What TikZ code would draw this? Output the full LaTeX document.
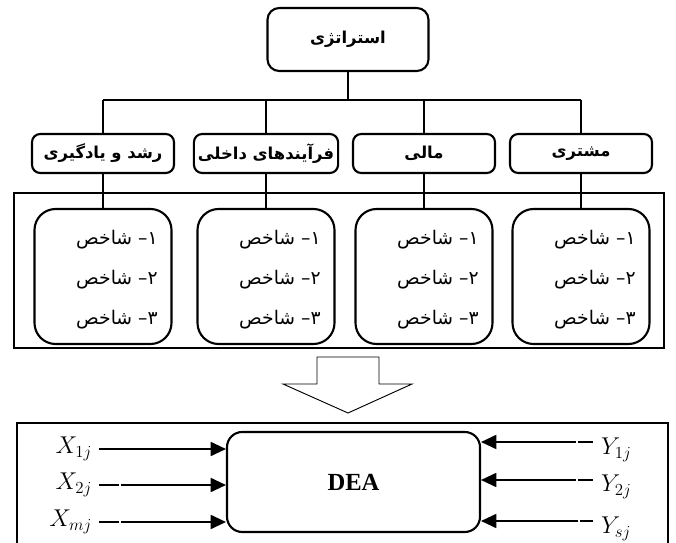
\documentclass[tikz,border=0pt]{standalone}
\usepackage{fontspec}
\setmainfont{Liberation Serif}
\newfontfamily\farsi[Script=Arabic]{DejaVu Sans}
\TeXXeTstate=1
\usetikzlibrary{arrows.meta}

\tikzset{
  link/.style={line width=0.9pt},
  frame/.style={line width=2.2pt},
  topbox/.style={draw, line width=1.8pt, rounded corners=10pt, minimum width=4.83cm, minimum height=1.89cm, font=\farsi\bfseries\fontsize{14}{16}\selectfont},
  catbox/.style={draw, line width=1.8pt, rounded corners=7pt, minimum width=4.26cm, minimum height=1.17cm, font=\farsi\bfseries\fontsize{14}{16}\selectfont},
  inbox/.style={draw, line width=1.8pt, rounded corners=18pt, minimum width=4.11cm, minimum height=4.05cm},
  item/.style={anchor=east, inner sep=1pt, font=\farsi\fontsize{16}{18}\selectfont},
  deabox/.style={draw, line width=1.8pt, rounded corners=13pt, minimum width=7.59cm, minimum height=3cm, font=\bfseries\fontsize{21}{24}\selectfont},
  lab/.style={inner sep=1pt, outer sep=5pt, font=\fontsize{20}{22}\selectfont},
  arr/.style={line width=1.3pt, -{Triangle[length=13pt,width=12pt]}},
  gapped/.style={dash pattern=on #1 off 1.6pt on 400pt}
}

\begin{document}
\begin{tikzpicture}[x=0.03cm,y=-0.03cm]
\useasboundingbox (0,0) rectangle (676,543);
\clip (0,0) rectangle (676,543);

% strategy and the four perspectives
\node[topbox] (strat) at (348,39.5) {\beginR استراتژی\endR};
\coordinate (bus) at (348,100);
\draw[link] (strat) -- (bus);
\draw[frame] (14,193) rectangle (664,348);
\foreach \x/\t [count=\i] in {103/{رشد و یادگیری}, 266/{فرآیندهای داخلی}, 424/{مالی}, 581/{مشتری}}{
  \node[catbox] (c\i) at (\x,153.5) {\beginR\t\endR};
  \node[inbox] (k\i) at (\x,276.5) {};
  \draw[link] (c\i.north) -- (c\i.north |- bus);
  \draw[link] (c\i) -- (k\i);
  \foreach \n/\y [count=\j] in {۱/240, ۲/280, ۳/320}
    \node[item] (k\i-\j) at (\x+56,\y) {\beginR\n\kern0pt– شاخص\endR};
}
\draw[link] (c1.north |- bus) -- (c4.north |- bus);

% hollow arrow down
\draw[line width=0.8pt] (317,357) -- (379,357) -- (379,384) -- (412,384) -- (348,413)
  -- (283,384) -- (317,384) -- cycle;

% DEA part
\draw[frame] (17,560) -- (17,423) -- (668,423) -- (668,560);
\node[deabox] (dea) at (353.5,482) {DEA};

\node[lab, anchor=east] (x1) at (99,449) {$X_{1j}$};
\node[lab, anchor=east] (x2) at (99,485) {$X_{2j}$};
\node[lab, anchor=east] (xm) at (99,522) {$X_{mj}$};
\draw[arr] (x1.east) -- (dea.west |- x1.east);
\draw[arr, gapped=17pt] (x2.east) -- (dea.west |- x2.east);
\draw[arr, gapped=17pt] (xm.east) -- (dea.west |- xm.east);

\coordinate (y1s) at (593,442);
\coordinate (y2s) at (593,480);
\coordinate (yss) at (593,521);
\node[lab, anchor=west] (y1) at (594,450) {$Y_{1j}$};
\node[lab, anchor=west] (y2) at (594,487) {$Y_{2j}$};
\node[lab, anchor=west] (ys) at (594,529) {$Y_{sj}$};
\draw[arr, gapped=13pt] (y1s) -- (dea.east |- y1s);
\draw[arr, gapped=13pt] (y2s) -- (dea.east |- y2s);
\draw[arr, gapped=11pt] (yss) -- (dea.east |- yss);
\end{tikzpicture}
\end{document}
